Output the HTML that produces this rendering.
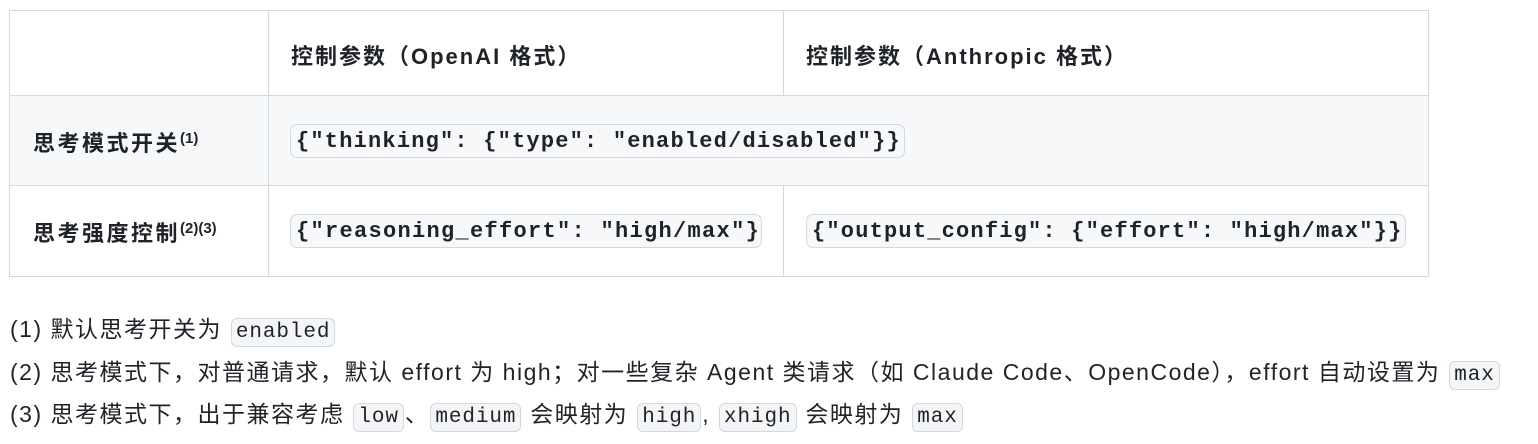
<!DOCTYPE html>
<html><head><meta charset="utf-8"><style>
body{margin:0;width:1538px;height:444px;background:#fff;position:relative;font-family:"Liberation Sans","Noto Sans CJK SC",sans-serif;color:#1f2328;overflow:hidden}
.a{position:absolute}
.b{position:absolute;border:1px solid #d1d9e0}
.h{font-weight:bold;font-size:22px;letter-spacing:2px;white-space:nowrap}
.code{position:absolute;height:34px;line-height:34px;background:#f6f8fa;border:1px solid #d1d9e0;border-radius:7px;font-family:"Liberation Mono",monospace;font-weight:bold;font-size:22px;letter-spacing:1.2px;white-space:nowrap;padding-left:5px;box-sizing:border-box}
.ic{background:#f4f5f7;border:1px solid #d1d9e0;border-radius:6px;font-family:"Liberation Mono",monospace;font-size:21px;padding:2px 4px;letter-spacing:0.9px;margin:0 1px}
.f{position:absolute;left:10px;font-size:23px;letter-spacing:1.5px;white-space:nowrap}
sup{font-size:15px;vertical-align:8px;letter-spacing:0}
</style></head><body>
<div class="b" style="left:9px;top:10px;width:1418px;height:265px"></div>
<div class="a" style="left:10px;top:96px;width:1418px;height:89px;background:#f6f8fa"></div>
<div class="a" style="left:10px;top:95px;width:1418px;height:1px;background:#d1d9e0"></div>
<div class="a" style="left:10px;top:185px;width:1418px;height:1px;background:#d1d9e0"></div>
<div class="a" style="left:268px;top:10px;width:1px;height:266px;background:#d1d9e0"></div>
<div class="a" style="left:783px;top:10px;width:1px;height:86px;background:#d1d9e0"></div>
<div class="a" style="left:783px;top:185px;width:1px;height:91px;background:#d1d9e0"></div>
<div class="a h" style="left:291px;top:39px">控制参数（OpenAI 格式）</div>
<div class="a h" style="left:806px;top:39px">控制参数（Anthropic 格式）</div>
<div class="a h" style="left:33px;top:126px;letter-spacing:2.5px">思考模式开关<sup>(1)</sup></div>
<div class="a h" style="left:33px;top:216px;letter-spacing:2.5px">思考强度控制<sup>(2)(3)</sup></div>
<div class="code" style="left:290px;top:124px;width:615px;letter-spacing:1.2px">{"thinking": {"type": "enabled/disabled"}}</div>
<div class="code" style="left:290px;top:214px;width:472px;letter-spacing:1.3px">{"reasoning_effort": "high/max"}</div>
<div class="code" style="left:806px;top:214px;width:600px;letter-spacing:1.2px">{"output_config": {"effort": "high/max"}}</div>
<div class="f" style="top:310px">(1) 默认思考开关为 <span class="ic">enabled</span></div>
<div class="f" style="top:353px">(2) 思考模式下，对普通请求，默认 effort 为 high；对一些复杂 Agent 类请求（如 Claude Code、OpenCode），effort 自动设置为 <span class="ic">max</span></div>
<div class="f" style="top:395px">(3) 思考模式下，出于兼容考虑 <span class="ic">low</span>、<span class="ic">medium</span> 会映射为 <span class="ic">high</span>, <span class="ic">xhigh</span> 会映射为 <span class="ic">max</span></div>
</body></html>
